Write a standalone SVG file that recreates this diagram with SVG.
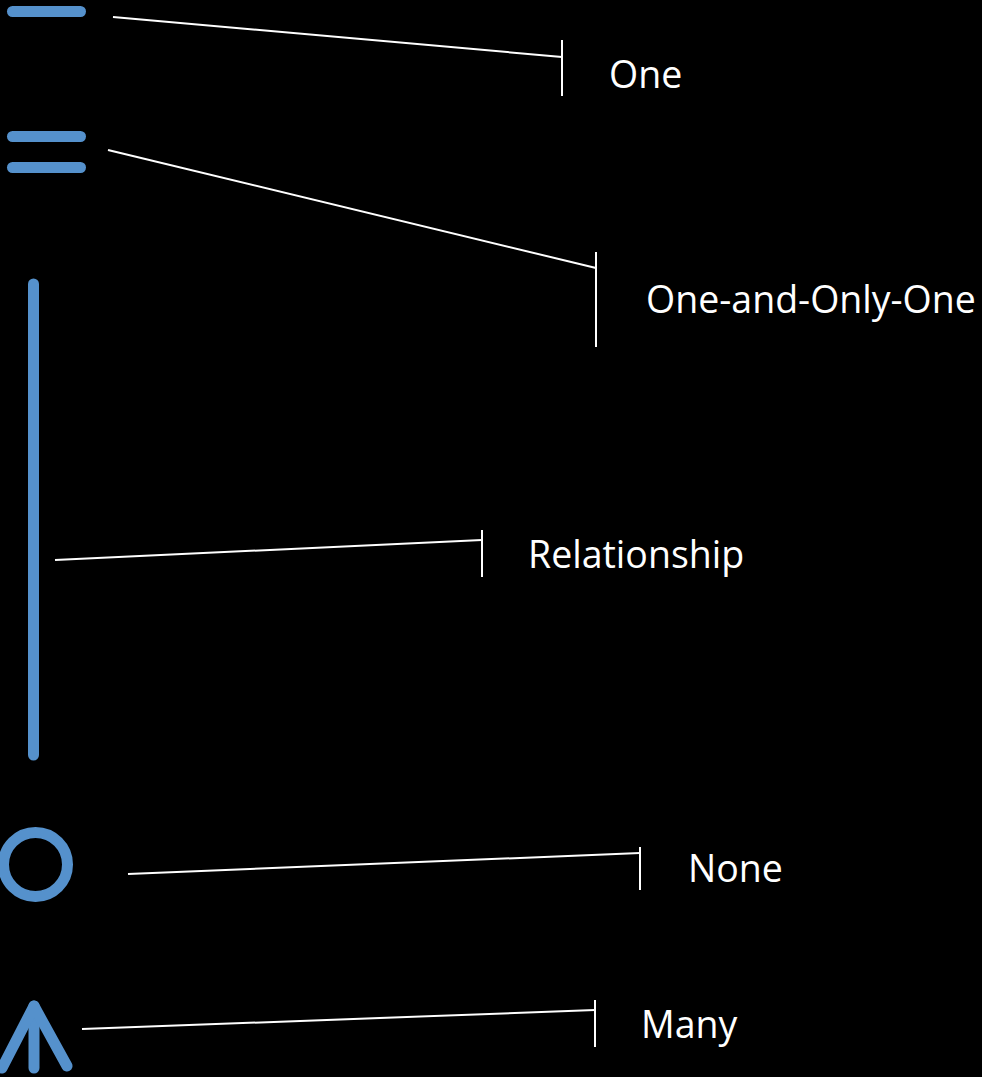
<svg xmlns="http://www.w3.org/2000/svg" width="982" height="1077" viewBox="0 0 982 1077">
<style>
.sym{stroke:#5591CC;stroke-width:11;stroke-linecap:round;stroke-linejoin:round;fill:none}
.con{stroke:#FFFFFF;stroke-width:2;fill:none}
.lbl{fill:#FFFFFF;font-family:"Open Sans","Noto Sans",sans-serif;font-size:37.5px}
</style>
<rect width="982" height="1077" fill="#000000"/>
<g id="node-one">
<line class="sym" x1="12.5" y1="11.5" x2="80.5" y2="11.5"/>
<text class="lbl" x="609" y="88">One</text>
</g>
<g id="node-one-and-only-one">
<line class="sym" x1="12.5" y1="136.5" x2="80.5" y2="136.5"/>
<line class="sym" x1="12.5" y1="167.5" x2="80.5" y2="167.5"/>
<text class="lbl" x="646" y="313">One-and-Only-One</text>
</g>
<g id="node-relationship">
<line class="sym" x1="33.5" y1="284" x2="33.5" y2="755"/>
<text class="lbl" x="528" y="568">Relationship</text>
</g>
<g id="node-none">
<circle class="sym" cx="35.5" cy="864.5" r="32"/>
<text class="lbl" x="688" y="882">None</text>
</g>
<g id="node-many">
<line class="sym" x1="34" y1="1006" x2="34" y2="1068"/>
<polyline class="sym" points="2,1068 34,1006 67,1066"/>
<text class="lbl" x="641" y="1038">Many</text>
</g>
<g id="connectors">
<line class="con" x1="113" y1="17" x2="562" y2="57"/>
<line class="con" x1="562" y1="40" x2="562" y2="96"/>
<line class="con" x1="108" y1="150" x2="596" y2="268"/>
<line class="con" x1="596" y1="252" x2="596" y2="347"/>
<line class="con" x1="55" y1="560" x2="482" y2="540"/>
<line class="con" x1="482" y1="530" x2="482" y2="577"/>
<line class="con" x1="128" y1="874" x2="640" y2="853"/>
<line class="con" x1="640" y1="847" x2="640" y2="890"/>
<line class="con" x1="82" y1="1029" x2="595" y2="1010"/>
<line class="con" x1="595" y1="1000" x2="595" y2="1047"/>
</g>
</svg>
